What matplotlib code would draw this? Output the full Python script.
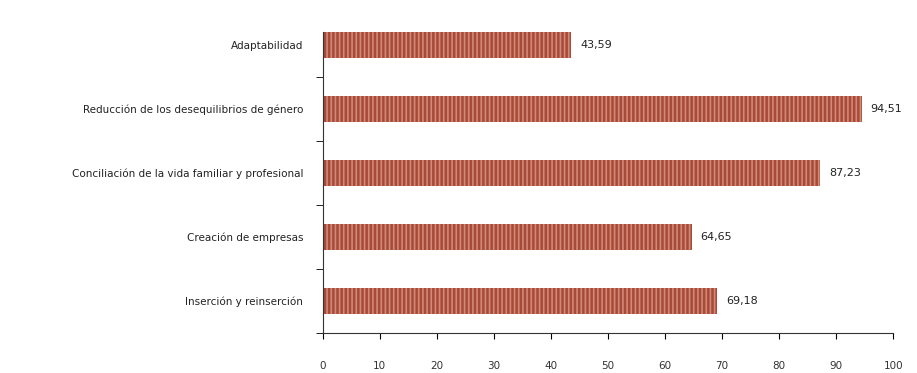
import matplotlib
matplotlib.use("Agg")
from matplotlib import pyplot as plt

categories = ["Inserción y reinserción", "Creación de empresas",
              "Conciliación de la vida familiar y profesional",
              "Reducción de los desequilibrios de género", "Adaptabilidad"]
values = [69.18, 64.65, 87.23, 94.51, 43.59]
xticks = [0, 10, 20, 30, 40, 50, 60, 70, 80, 90, 100]

plt.rcParams["hatch.linewidth"] = 1.2
plt.rcParams["hatch.color"] = "#cf8a78"

fig = plt.figure(figsize=(9.17, 3.73), dpi=100)
ax = fig.add_axes([0.352, 0.107, 0.622, 0.858])

pos = list(range(len(categories)))
ax.barh(pos, values, height=0.41, color="#a94a38", hatch="||||",
        edgecolor="#cf8a78", linewidth=0)

for p, v in zip(pos, values):
    ax.text(v + 1.5, p, f"{v:.2f}".replace(".", ","), va="center", ha="left",
            fontsize=8, color="#222222")

ax.set_xlim(0, 100)
ax.set_ylim(-0.5, 4.5)
ax.set_xticks(xticks)
ax.set_xticklabels([str(t) for t in xticks], fontsize=7.5, color="#333333")
ax.tick_params(axis="x", direction="out", length=4, pad=16)

# category labels without ticks, ticks at boundaries
ax.set_yticks(pos)
ax.set_yticklabels(categories, fontsize=7.5, color="#222222")
ax.tick_params(axis="y", length=0, pad=14)
ax.set_yticks([p + 0.5 for p in pos[:-1]] + [-0.5], minor=True)
ax.tick_params(axis="y", which="minor", length=5, direction="out")

for s in ["top", "right"]:
    ax.spines[s].set_visible(False)
ax.spines["left"].set_bounds(-0.5, 4.2)
ax.spines["left"].set_color("#333333")
ax.spines["bottom"].set_color("#333333")

fig.savefig("out.png", dpi=100)
